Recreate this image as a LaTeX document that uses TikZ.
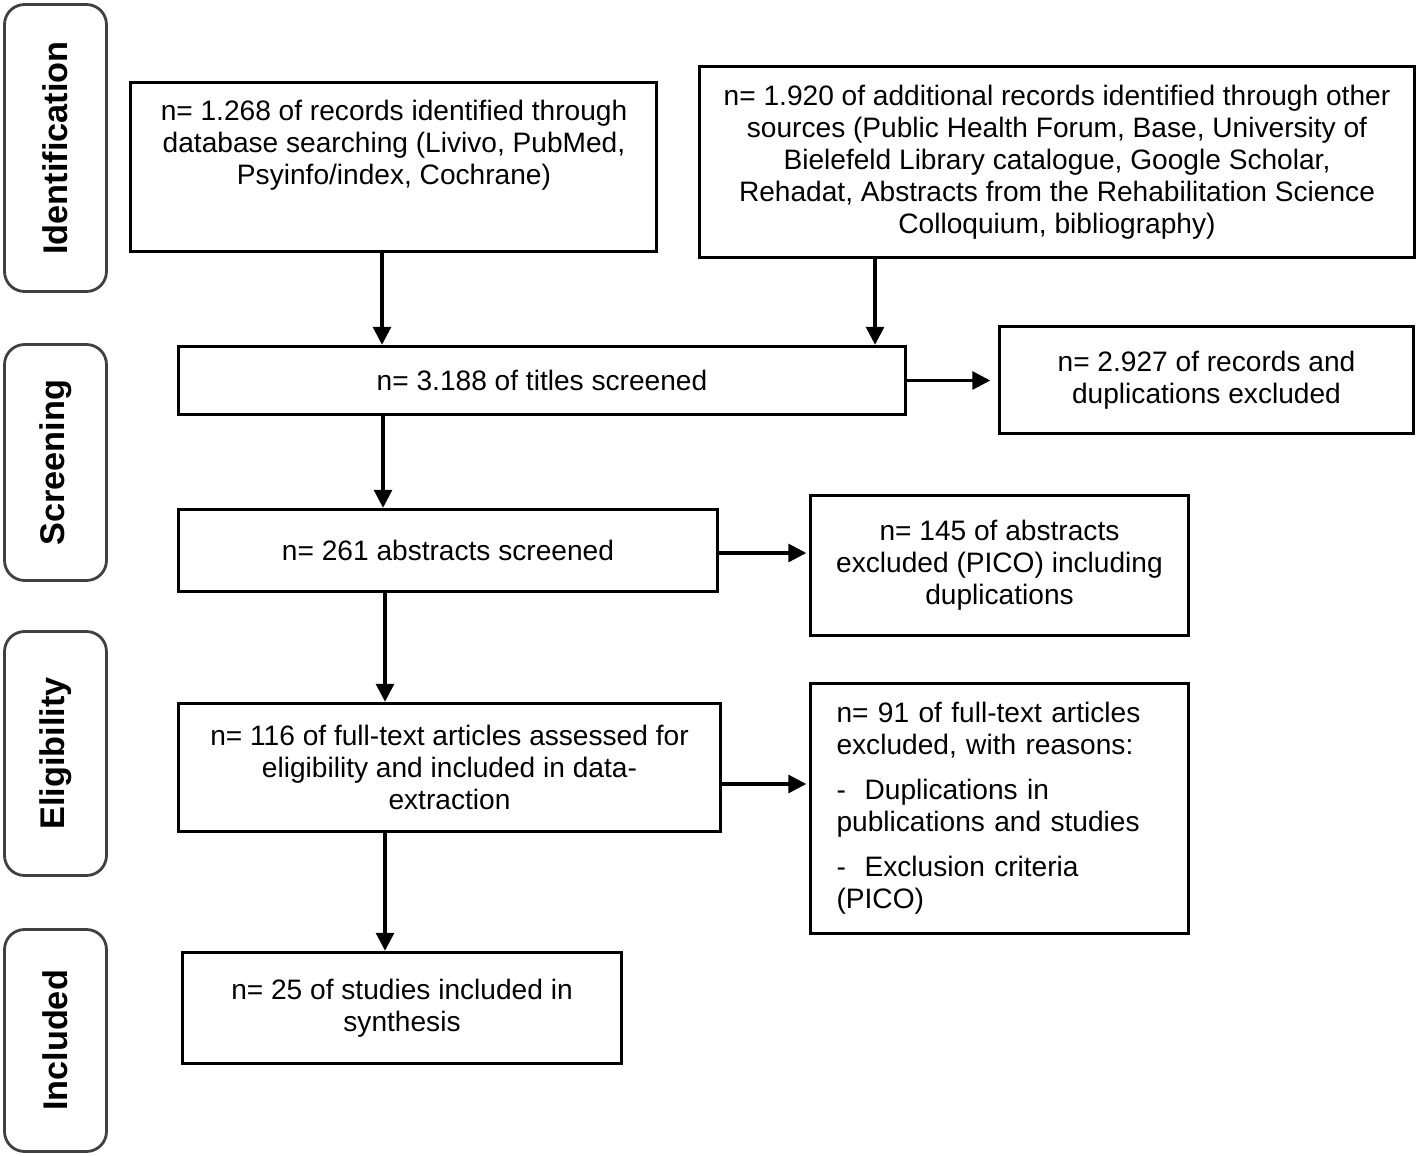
\documentclass[tikz,border=0pt]{standalone}
\usepackage{fontspec}
\setmainfont{Liberation Sans}
\usetikzlibrary{arrows.meta}

\tikzset{
  txt/.style={align=center, font=\fontsize{16}{18.2}\selectfont, inner sep=0pt},
  box/.style={txt, draw=black, line width=2pt},
  stage/.style={draw=black!75, line width=1.6pt, rounded corners=0.4cm, rotate=90,
    minimum height=2.04cm, font=\fontsize{19.5}{22}\selectfont\bfseries},
  arr/.style={line width=1.8pt, -{Triangle[length=0.36cm, width=0.36cm]}}
}

\begin{document}
\begin{tikzpicture}[x=0.02cm, y=-0.02cm]
  \useasboundingbox (0,0) rectangle (1418,1156);
  \foreach \y/\h/\txt [count=\i] in {148/5.74/Identification, 462.5/4.72/Screening, 753.5/4.88/Eligibility, 1040.5/4.44/Included}
  {
  \node[stage, minimum width=\h cm] (stage\i) at (55.5,\y) {\txt};
  }

  \node[box, minimum width=10.52cm, minimum height=3.38cm] (db) at (393.5,167) {};
  \node[txt] (dbtxt) at (394,145) {n= 1.268 of records identified through\\database searching (Livivo, PubMed,\\Psyinfo/index, Cochrane)};
  \node[box, minimum width=14.3cm, minimum height=3.82cm] (other) at (1057,162) {n= 1.920 of additional records identified through other\\sources (Public Health Forum, Base, University of\\Bielefeld Library catalogue, Google Scholar,\\Rehadat, Abstracts from the Rehabilitation Science\\Colloquium, bibliography)};
  \node[box, minimum width=14.54cm, minimum height=1.36cm] (titles) at (542,380.5) {n= 3.188 of titles screened};
  \node[box, minimum width=8.28cm, minimum height=2.14cm] (excl1) at (1206.5,380) {n= 2.927 of records and\\duplications excluded};
  \node[box, minimum width=10.78cm, minimum height=1.64cm] (abstr) at (448,550.5) {n= 261 abstracts screened};
  \node[box, minimum width=7.56cm, minimum height=2.8cm] (excl2) at (999.5,565.5) {n= 145 of abstracts\\excluded (PICO) including\\duplications};
  \node[box, minimum width=10.84cm, minimum height=2.56cm] (full) at (449.5,767.5) {n= 116 of full-text articles assessed for\\eligibility and included in data-\\extraction};
  \node[box, align=left, text width=6.52cm, inner xsep=0.52cm, minimum height=5cm] (excl3) at (999.5,808.5) {n= 91 of full-text articles\\excluded, with reasons:\\[0.26cm]-\ \ Duplications in\\publications and studies\\[0.26cm]-\ \ Exclusion criteria\\(PICO)};
  \node[box, minimum width=8.78cm, minimum height=2.22cm] (incl) at (402,1008) {n= 25 of studies included in\\synthesis};

  \draw[arr] ([xshift=-0.23cm]db.south) -- ([xshift=-0.23cm]db.south |- titles.north);
  \draw[arr] ([xshift=-3.64cm]other.south) -- ([xshift=-3.64cm]other.south |- titles.north);
  \draw[arr, shorten >=0.15cm] (titles.east) -- (titles.east -| excl1.west);
  \draw[arr] ([xshift=-3.18cm]titles.south) -- ([xshift=-3.18cm]titles.south |- abstr.north);
  \draw[arr, shorten >=0.05cm] ([yshift=-0.05cm]abstr.east) -- ([yshift=-0.05cm]abstr.east -| excl2.west);
  \draw[arr] ([xshift=-1.26cm]abstr.south) -- ([xshift=-1.26cm]abstr.south |- full.north);
  \draw[arr, shorten >=0.05cm] ([yshift=-0.33cm]full.east) -- ([yshift=-0.33cm]full.east -| excl3.west);
  \draw[arr] ([xshift=-1.29cm]full.south) -- ([xshift=-1.29cm]full.south |- incl.north);

\end{tikzpicture}
\end{document}
